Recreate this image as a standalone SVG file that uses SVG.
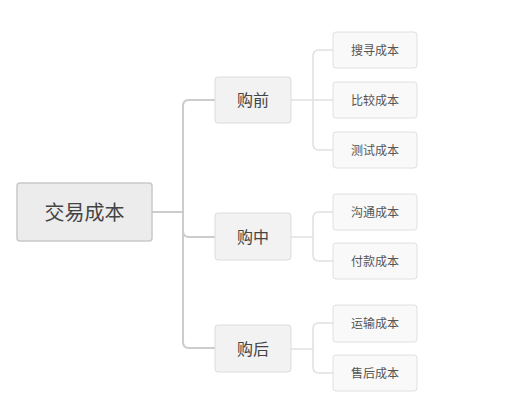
<svg xmlns="http://www.w3.org/2000/svg" width="528" height="401" viewBox="0 0 528 401">
<style>
text{font-family:"Noto Sans CJK SC","Noto Sans",sans-serif;text-anchor:middle;dominant-baseline:central}
.root rect{fill:#ececec;stroke:#c9c9c9;stroke-width:1.5}
.root text{font-size:20px;fill:#444}
.l1 rect{fill:#f2f2f2;stroke:#dcdcdc;stroke-width:1}
.l1 text{font-size:16px;fill:#444}
.l2 rect{fill:#f9f9f9;stroke:#e0e0e0;stroke-width:1}
.l2 text{font-size:12px;fill:#555}
.main{fill:none;stroke:#cccccc;stroke-width:2}
.sub{fill:none;stroke:#e0e0e0;stroke-width:1.5}
</style>
<rect width="528" height="401" fill="#ffffff"/>
<g id="connectors">
<path class="main" d="M152 212H183"/>
<path class="main" d="M215 100H189Q183 100 183 106V342Q183 348 189 348H215"/>
<path class="main" d="M183 231Q183 237 189 237H215"/>
<path class="sub" d="M291 100H333"/>
<path class="sub" d="M333 50H319Q313 50 313 56V144Q313 150 319 150H333"/>
<path class="sub" d="M291 237H313"/>
<path class="sub" d="M333 212H319Q313 212 313 218V255Q313 261 319 261H333"/>
<path class="sub" d="M291 349H313"/>
<path class="sub" d="M333 323H319Q313 323 313 329V367Q313 373 319 373H333"/>
</g>
<g id="root" class="root"><rect x="17" y="183" width="135" height="58" rx="3"/><text x="84.5" y="211">交易成本</text></g>
<g id="n-qian" class="l1"><rect x="215" y="77" width="76" height="46" rx="3"/><text x="253" y="99">购前</text></g>
<g id="n-zhong" class="l1"><rect x="215" y="213" width="76" height="47" rx="3"/><text x="253" y="236">购中</text></g>
<g id="n-hou" class="l1"><rect x="215" y="325" width="76" height="47" rx="3"/><text x="253" y="348">购后</text></g>
<g id="c1" class="l2"><rect x="333" y="32" width="84" height="36" rx="3"/><text x="375" y="49.5">搜寻成本</text></g>
<g id="c2" class="l2"><rect x="333" y="82" width="84" height="36" rx="3"/><text x="375" y="99.5">比较成本</text></g>
<g id="c3" class="l2"><rect x="333" y="132" width="84" height="36" rx="3"/><text x="375" y="149.5">测试成本</text></g>
<g id="c4" class="l2"><rect x="333" y="194" width="84" height="36" rx="3"/><text x="375" y="211.5">沟通成本</text></g>
<g id="c5" class="l2"><rect x="333" y="243" width="84" height="36" rx="3"/><text x="375" y="260.5">付款成本</text></g>
<g id="c6" class="l2"><rect x="333" y="305" width="84" height="37" rx="3"/><text x="375" y="322.5">运输成本</text></g>
<g id="c7" class="l2"><rect x="333" y="355" width="84" height="36" rx="3"/><text x="375" y="372.5">售后成本</text></g>
</svg>
